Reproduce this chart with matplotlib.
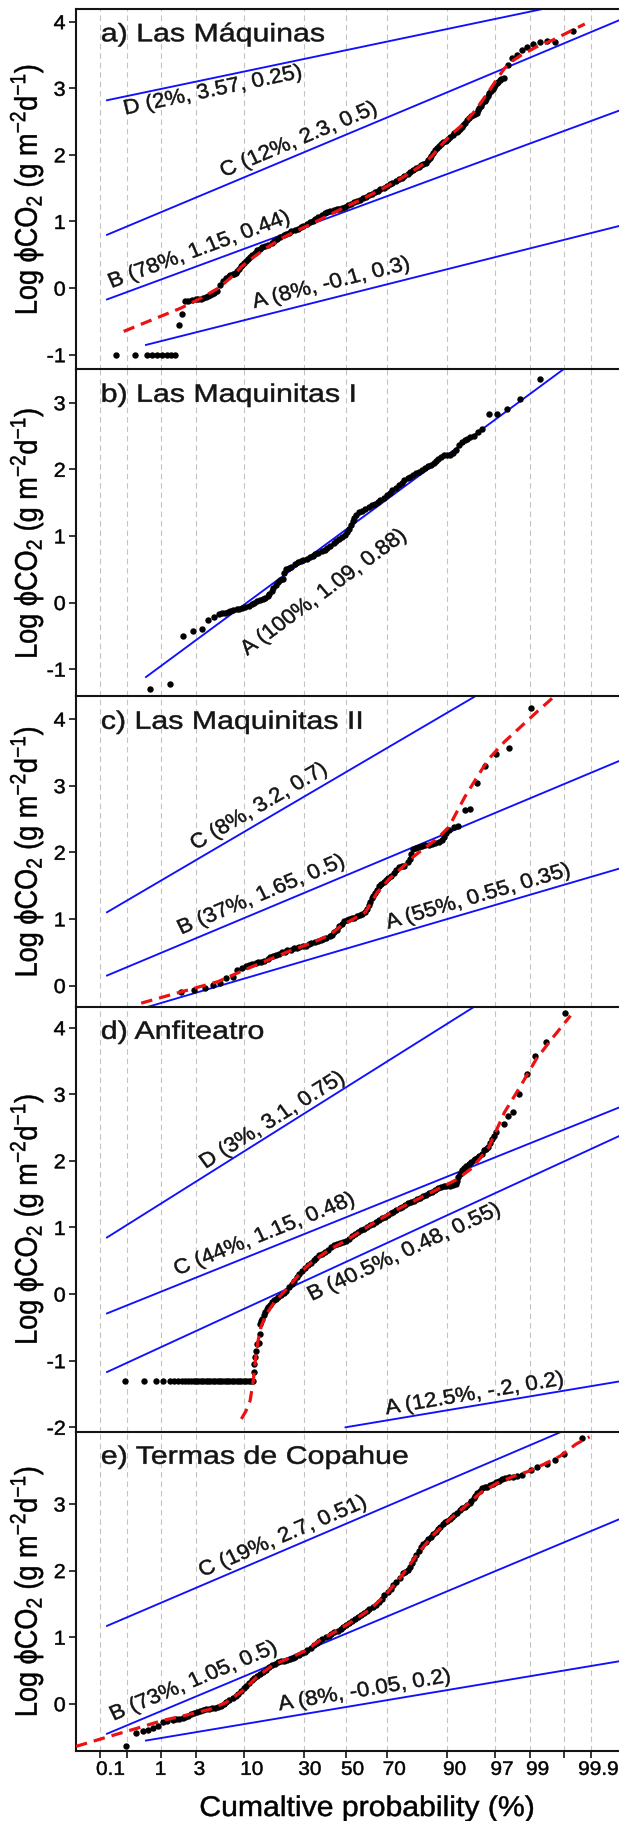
import matplotlib
matplotlib.use("Agg")
import matplotlib.pyplot as plt
from matplotlib.transforms import ScaledTranslation, Affine2D
from matplotlib.patheffects import AbstractPathEffect
from statistics import NormalDist
import numpy as np

plt.rcParams['font.family'] = ['Liberation Sans', 'DejaVu Sans']
plt.rcParams['mathtext.fontset'] = 'custom'
plt.rcParams['mathtext.rm'] = 'Liberation Sans'
plt.rcParams['mathtext.it'] = 'Liberation Sans'
plt.rcParams['axes.unicode_minus'] = False

# x axis = normal score of the cumulative probability
prob_ticks = [0.1, 0.3, 1, 3, 10, 30, 50, 70, 90, 97, 99, 99.7, 99.9]
prob_labels = ['0.1', '', '1', '3', '10', '30', '50', '70', '90', '97', '99', '', '99.9']

titles = ['a) Las Máquinas', 'b) Las Maquinitas I', 'c) Las Maquinitas II',
          'd) Anfiteatro', 'e) Termas de Copahue']

# ---- a) Las Maquinas: (normal score, log flux)
a_pts = [(-2.89, -1.0), (-2.65, -1.0), (-2.50, -1.0), (-2.43, -1.0), (-2.37, -1.0), (-2.31, -1.0),
         (-2.25, -1.0), (-2.19, -1.0), (-2.14, -1.0), (-2.10, -0.56), (-2.06, -0.39),
         (-2.02, -0.20), (-1.98, -0.19), (-1.93, -0.18), (-1.88, -0.17), (-1.85, -0.165),
         (-1.82, -0.16), (-1.79, -0.15), (-1.76, -0.14), (-1.73, -0.12), (-1.71, -0.10),
         (-1.68, -0.09), (-1.66, -0.08), (-1.62, -0.04), (-1.58, 0.04), (-1.54, 0.10),
         (-1.50, 0.15), (-1.47, 0.18), (-1.45, 0.20), (-1.42, 0.205), (-1.40, 0.21),
         (-1.38, 0.23), (-1.36, 0.25), (-1.34, 0.29), (-1.32, 0.33), (-1.30, 0.35),
         (-1.28, 0.38), (-1.25, 0.41), (-1.23, 0.44), (-1.20, 0.47), (-1.17, 0.50),
         (-1.14, 0.53), (-1.11, 0.57), (-1.08, 0.59), (-1.05, 0.62), (-1.01, 0.635),
         (-0.97, 0.65), (-0.93, 0.675), (-0.90, 0.70), (-0.86, 0.735), (-0.82, 0.765),
         (-0.78, 0.79), (-0.75, 0.81), (-0.71, 0.83), (-0.68, 0.85), (-0.64, 0.87),
         (-0.60, 0.885), (-0.56, 0.91), (-0.53, 0.935), (-0.49, 0.96), (-0.45, 0.985),
         (-0.41, 1.01), (-0.38, 1.04), (-0.34, 1.07), (-0.30, 1.10), (-0.26, 1.125),
         (-0.23, 1.145), (-0.19, 1.16), (-0.15, 1.175), (-0.11, 1.185), (-0.08, 1.195),
         (-0.04, 1.21), (-0.01, 1.225), (0.03, 1.245), (0.07, 1.265), (0.11, 1.29),
         (0.14, 1.31), (0.18, 1.33), (0.22, 1.35), (0.26, 1.375), (0.29, 1.395),
         (0.33, 1.42), (0.37, 1.44), (0.41, 1.465), (0.44, 1.485), (0.48, 1.51),
         (0.52, 1.535), (0.56, 1.56), (0.59, 1.585), (0.63, 1.61), (0.67, 1.635),
         (0.71, 1.66), (0.74, 1.69), (0.78, 1.715), (0.81, 1.74), (0.85, 1.77),
         (0.89, 1.80), (0.92, 1.825), (0.95, 1.85), (0.98, 1.87), (1.01, 1.885),
         (1.04, 1.92), (1.06, 1.95), (1.08, 1.99), (1.10, 2.035), (1.13, 2.08),
         (1.15, 2.11), (1.18, 2.14), (1.20, 2.165), (1.23, 2.19), (1.26, 2.215),
         (1.29, 2.245), (1.32, 2.275), (1.35, 2.30), (1.37, 2.325), (1.40, 2.345),
         (1.42, 2.36), (1.44, 2.39), (1.46, 2.415), (1.48, 2.45), (1.50, 2.485),
         (1.53, 2.52), (1.55, 2.55), (1.58, 2.58), (1.60, 2.60), (1.63, 2.62),
         (1.65, 2.635), (1.67, 2.67), (1.68, 2.70), (1.70, 2.74), (1.72, 2.775),
         (1.75, 2.805), (1.77, 2.835), (1.79, 2.88), (1.81, 2.925), (1.83, 2.955),
         (1.85, 2.985), (1.87, 3.02), (1.88, 3.05), (1.90, 3.075), (1.92, 3.10),
         (1.94, 3.12), (1.96, 3.135), (1.99, 3.16), (2.05, 3.35), (2.10, 3.46),
         (2.16, 3.50), (2.22, 3.57), (2.28, 3.62), (2.36, 3.66), (2.45, 3.70),
         (2.54, 3.71), (2.64, 3.69), (2.86, 3.86)]
a_fit_z = [-2.79, -2.4, -2.07, -1.8, -1.6, -1.45, -1.3, -1.15, -1.0, -0.8, -0.6, -0.4,
           -0.2, 0.0, 0.2, 0.4, 0.6, 0.8, 1.0, 1.1, 1.2, 1.3, 1.4, 1.5, 1.6, 1.7, 1.8,
           1.9, 2.0, 2.1, 2.2, 2.4, 2.6, 2.8, 3.01]
a_fit_y = [-0.65, -0.46, -0.30, -0.14, 0.0, 0.15, 0.33, 0.47, 0.6, 0.75, 0.87, 0.98,
           1.1, 1.22, 1.33, 1.45, 1.58, 1.72, 1.88, 2.0, 2.14, 2.27, 2.38, 2.48, 2.62,
           2.78, 2.95, 3.13, 3.3, 3.41, 3.49, 3.62, 3.72, 3.84, 3.965]
a_pop_labels = ['D (2%, 3.57, 0.25)', 'C (12%, 2.3, 0.5)', 'B (78%, 1.15, 0.44)', 'A (8%, -0.1, 0.3)']
a_pop_mean = [3.57, 2.3, 1.15, -0.1]
a_pop_sd = [0.25, 0.5, 0.44, 0.3]
a_pop_start = [-3.0, -3.0, -3.0, -2.51]

# ---- b) Las Maquinitas I
b_pts = [(-2.46, -1.30), (-2.21, -1.23), (-2.04, -0.51), (-1.92, -0.42), (-1.81, -0.39),
         (-1.73, -0.26), (-1.66, -0.21), (-1.59, -0.17), (-1.55, -0.16), (-1.52, -0.15),
         (-1.48, -0.135), (-1.45, -0.12), (-1.41, -0.11), (-1.37, -0.10), (-1.34, -0.09),
         (-1.30, -0.08), (-1.26, -0.065), (-1.22, -0.05), (-1.18, -0.02), (-1.15, 0.00),
         (-1.11, 0.02), (-1.07, 0.04), (-1.04, 0.055), (-1.01, 0.07), (-0.98, 0.10),
         (-0.96, 0.13), (-0.93, 0.18), (-0.91, 0.22), (-0.88, 0.27), (-0.85, 0.31),
         (-0.82, 0.335), (-0.79, 0.36), (-0.77, 0.45), (-0.75, 0.51), (-0.71, 0.525),
         (-0.68, 0.54), (-0.64, 0.575), (-0.60, 0.61), (-0.56, 0.625), (-0.53, 0.64),
         (-0.49, 0.66), (-0.45, 0.68), (-0.41, 0.705), (-0.38, 0.73), (-0.34, 0.75),
         (-0.30, 0.77), (-0.26, 0.795), (-0.23, 0.82), (-0.19, 0.855), (-0.15, 0.89),
         (-0.12, 0.925), (-0.08, 0.96), (-0.04, 0.99), (-0.01, 1.02), (0.02, 1.06),
         (0.05, 1.11), (0.07, 1.17), (0.09, 1.22), (0.11, 1.27), (0.13, 1.32),
         (0.17, 1.355), (0.21, 1.38), (0.25, 1.41), (0.29, 1.43), (0.33, 1.46),
         (0.37, 1.48), (0.41, 1.51), (0.44, 1.54), (0.48, 1.575), (0.52, 1.61),
         (0.56, 1.65), (0.59, 1.69), (0.63, 1.725), (0.67, 1.76), (0.71, 1.80),
         (0.74, 1.84), (0.78, 1.865), (0.81, 1.89), (0.85, 1.91), (0.89, 1.94),
         (0.93, 1.96), (0.96, 1.99), (1.00, 2.02), (1.04, 2.05), (1.08, 2.07),
         (1.11, 2.09), (1.14, 2.13), (1.16, 2.16), (1.20, 2.19), (1.24, 2.21),
         (1.28, 2.215), (1.31, 2.22), (1.35, 2.25), (1.39, 2.29), (1.43, 2.36),
         (1.46, 2.41), (1.50, 2.44), (1.53, 2.46), (1.57, 2.48), (1.61, 2.50),
         (1.67, 2.56), (1.72, 2.61), (1.80, 2.83), (1.91, 2.83), (2.03, 2.90),
         (2.20, 3.05), (2.45, 3.36)]
b_fit_z = []
b_fit_y = []
b_pop_labels = ['A (100%, 1.09, 0.88)']
b_pop_mean = [1.09]
b_pop_sd = [0.88]
b_pop_start = [-2.51]

# ---- c) Las Maquinitas II
c_pts = [(-2.07, -0.09), (-1.91, -0.06), (-1.77, -0.03), (-1.67, 0.01), (-1.58, 0.04),
         (-1.50, 0.11), (-1.42, 0.13), (-1.36, 0.24), (-1.30, 0.27), (-1.25, 0.30),
         (-1.21, 0.31), (-1.17, 0.32), (-1.13, 0.335), (-1.10, 0.35), (-1.06, 0.36),
         (-1.02, 0.37), (-0.98, 0.40), (-0.95, 0.43), (-0.91, 0.445), (-0.87, 0.46),
         (-0.84, 0.48), (-0.80, 0.50), (-0.76, 0.51), (-0.73, 0.53), (-0.69, 0.54),
         (-0.65, 0.56), (-0.61, 0.57), (-0.58, 0.58), (-0.54, 0.59), (-0.50, 0.60),
         (-0.46, 0.62), (-0.43, 0.64), (-0.39, 0.655), (-0.35, 0.67), (-0.31, 0.685),
         (-0.28, 0.70), (-0.24, 0.72), (-0.20, 0.74), (-0.17, 0.765), (-0.14, 0.80),
         (-0.11, 0.84), (-0.08, 0.89), (-0.05, 0.93), (-0.02, 0.97), (0.02, 0.985),
         (0.05, 1.00), (0.08, 1.01), (0.11, 1.02), (0.14, 1.04), (0.18, 1.06),
         (0.21, 1.08), (0.24, 1.10), (0.27, 1.15), (0.29, 1.21), (0.31, 1.26),
         (0.33, 1.31), (0.35, 1.35), (0.37, 1.39), (0.40, 1.44), (0.42, 1.49),
         (0.45, 1.52), (0.48, 1.55), (0.51, 1.58), (0.54, 1.61), (0.57, 1.65),
         (0.61, 1.69), (0.64, 1.73), (0.67, 1.78), (0.71, 1.79), (0.74, 1.80),
         (0.78, 1.85), (0.81, 1.90), (0.83, 1.97), (0.85, 2.05), (0.89, 2.06),
         (0.92, 2.08), (0.96, 2.095), (1.00, 2.11), (1.05, 2.115), (1.09, 2.12),
         (1.13, 2.135), (1.17, 2.15), (1.21, 2.19), (1.24, 2.23), (1.27, 2.29),
         (1.30, 2.34), (1.36, 2.38), (1.42, 2.39), (1.50, 2.64), (1.56, 2.65),
         (1.66, 3.04), (1.76, 3.29), (1.89, 3.48), (2.06, 3.56), (2.33, 4.16)]
c_fit_z = [-2.57, -2.2, -1.9, -1.6, -1.3, -1.0, -0.7, -0.4, -0.2, -0.05, 0.1, 0.25, 0.4,
           0.55, 0.7, 0.85, 1.0, 1.15, 1.3, 1.5, 1.65, 1.8, 2.0, 2.2, 2.4, 2.63]
c_fit_y = [-0.265, -0.14, -0.04, 0.06, 0.22, 0.37, 0.52, 0.65, 0.76, 0.9, 1.0, 1.1, 1.4,
           1.6, 1.76, 1.93, 2.07, 2.2, 2.38, 2.83, 3.12, 3.40, 3.66, 3.88, 4.10, 4.345]
c_pop_labels = ['C (8%, 3.2, 0.7)', 'B (37%, 1.65, 0.5)', 'A (55%, 0.55, 0.35)']
c_pop_mean = [3.2, 1.65, 0.55]
c_pop_sd = [0.7, 0.5, 0.35]
c_pop_start = [-3.0, -3.0, -2.54]

# ---- d) Anfiteatro (values at the detection floor, then the rest)
d_floor = -1.31
d_floor_z = [-2.77, -2.54, -2.39, -2.29, -2.21, -2.16, -2.11, -2.06, -2.02, -1.98, -1.94,
             -1.91, -1.88, -1.85, -1.82, -1.79, -1.76, -1.73, -1.70, -1.67, -1.64, -1.61,
             -1.58, -1.55, -1.52, -1.49, -1.46, -1.43, -1.40, -1.37, -1.34, -1.31, -1.28,
             -1.25, -1.22, -1.19, -1.16]
d_pts = [(-1.157, -1.17), (-1.15, -1.05), (-1.137, -0.94), (-1.125, -0.85), (-1.112, -0.75),
         (-1.092, -0.73), (-1.08, -0.60), (-1.072, -0.45), (-1.06, -0.40), (-1.048, -0.37),
         (-1.03, -0.32), (-1.013, -0.27), (-0.99, -0.23), (-0.973, -0.20), (-0.95, -0.16),
         (-0.924, -0.12), (-0.90, -0.095), (-0.874, -0.07), (-0.845, -0.045), (-0.814, -0.02),
         (-0.78, 0.015), (-0.75, 0.05), (-0.71, 0.10), (-0.675, 0.15), (-0.645, 0.20),
         (-0.616, 0.255), (-0.585, 0.30), (-0.551, 0.345), (-0.515, 0.39), (-0.477, 0.43),
         (-0.44, 0.47), (-0.402, 0.505), (-0.365, 0.545), (-0.328, 0.58), (-0.29, 0.605),
         (-0.253, 0.63), (-0.215, 0.665), (-0.179, 0.705), (-0.14, 0.73), (-0.104, 0.755),
         (-0.067, 0.77), (-0.03, 0.78), (0.01, 0.80), (0.045, 0.83), (0.08, 0.865),
         (0.119, 0.895), (0.155, 0.925), (0.194, 0.955), (0.23, 0.98), (0.268, 1.005),
         (0.305, 1.03), (0.343, 1.055), (0.38, 1.085), (0.417, 1.115), (0.455, 1.14),
         (0.492, 1.165), (0.53, 1.19), (0.566, 1.215), (0.60, 1.24), (0.641, 1.265),
         (0.68, 1.29), (0.715, 1.315), (0.75, 1.34), (0.789, 1.365), (0.825, 1.385),
         (0.864, 1.405), (0.90, 1.425), (0.938, 1.445), (0.975, 1.47), (1.013, 1.495),
         (1.05, 1.52), (1.087, 1.54), (1.125, 1.565), (1.162, 1.59), (1.20, 1.61),
         (1.236, 1.62), (1.27, 1.625), (1.311, 1.63), (1.35, 1.645), (1.385, 1.655),
         (1.40, 1.70), (1.42, 1.76), (1.44, 1.81), (1.46, 1.86), (1.49, 1.90),
         (1.519, 1.93), (1.55, 1.955), (1.584, 1.98), (1.61, 2.01), (1.634, 2.03),
         (1.66, 2.05), (1.683, 2.07), (1.715, 2.11), (1.748, 2.16), (1.77, 2.18),
         (1.797, 2.21), (1.82, 2.27), (1.847, 2.33), (1.87, 2.38), (1.897, 2.43),
         (1.996, 2.56), (2.046, 2.67), (2.105, 2.73), (2.18, 3.01), (2.279, 3.30),
         (2.388, 3.57), (2.527, 3.79), (2.761, 4.22)]
d_fit_z = [-1.31, -1.25, -1.2, -1.16, -1.13, -1.1, -1.06, -1.0, -0.9, -0.8, -0.7, -0.6,
           -0.5, -0.4, -0.2, 0.0, 0.2, 0.4, 0.6, 0.8, 1.0, 1.2, 1.4, 1.6, 1.8, 2.0, 2.2,
           2.4, 2.6, 2.83]
d_fit_y = [-1.875, -1.75, -1.6, -1.3, -0.95, -0.7, -0.48, -0.31, -0.13, 0.0, 0.13, 0.27,
           0.40, 0.50, 0.67, 0.80, 0.95, 1.1, 1.24, 1.36, 1.48, 1.6, 1.72, 1.9, 2.2, 2.73,
           3.12, 3.53, 3.84, 4.18]
d_pop_labels = ['D (3%, 3.1, 0.75)', 'C (44%, 1.15, 0.48)', 'B (40.5%, 0.48, 0.55)', 'A (12.5%, -.2, 0.2)']
d_pop_mean = [3.1, 1.15, 0.48, -2.0]
d_pop_sd = [0.75, 0.48, 0.55, 0.2]
d_pop_start = [-3.0, -3.0, -3.0, 0.0]

# ---- e) Termas de Copahue
e_pts = [(-2.76, -0.64), (-2.63, -0.44), (-2.55, -0.41), (-2.49, -0.39), (-2.42, -0.36),
         (-2.36, -0.33), (-2.30, -0.28), (-2.24, -0.26), (-2.17, -0.24), (-2.13, -0.235),
         (-2.09, -0.23), (-2.05, -0.215), (-2.02, -0.20), (-1.98, -0.18), (-1.94, -0.16),
         (-1.90, -0.145), (-1.87, -0.13), (-1.83, -0.11), (-1.79, -0.09), (-1.75, -0.085),
         (-1.72, -0.08), (-1.68, -0.07), (-1.64, -0.06), (-1.60, -0.045), (-1.57, -0.03),
         (-1.53, 0.00), (-1.50, 0.03), (-1.46, 0.05), (-1.42, 0.08), (-1.38, 0.11),
         (-1.35, 0.15), (-1.31, 0.19), (-1.28, 0.23), (-1.25, 0.27), (-1.22, 0.31),
         (-1.18, 0.35), (-1.15, 0.39), (-1.11, 0.42), (-1.07, 0.45), (-1.04, 0.48),
         (-1.00, 0.51), (-0.96, 0.545), (-0.92, 0.58), (-0.89, 0.605), (-0.85, 0.63),
         (-0.81, 0.64), (-0.78, 0.65), (-0.74, 0.665), (-0.70, 0.68), (-0.66, 0.695),
         (-0.63, 0.71), (-0.59, 0.735), (-0.55, 0.76), (-0.51, 0.785), (-0.48, 0.81),
         (-0.44, 0.845), (-0.40, 0.88), (-0.36, 0.915), (-0.33, 0.95), (-0.29, 0.975),
         (-0.25, 1.00), (-0.21, 1.025), (-0.18, 1.05), (-0.14, 1.075), (-0.10, 1.10),
         (-0.06, 1.125), (-0.03, 1.15), (0.01, 1.18), (0.05, 1.21), (0.08, 1.24),
         (0.12, 1.27), (0.16, 1.30), (0.19, 1.33), (0.23, 1.36), (0.27, 1.39),
         (0.30, 1.42), (0.34, 1.46), (0.38, 1.49), (0.42, 1.53), (0.46, 1.58),
         (0.49, 1.63), (0.53, 1.68), (0.57, 1.73), (0.60, 1.78), (0.64, 1.83),
         (0.68, 1.89), (0.72, 1.96), (0.75, 1.985), (0.79, 2.01), (0.81, 2.06),
         (0.84, 2.12), (0.86, 2.17), (0.89, 2.23), (0.92, 2.29), (0.95, 2.36),
         (0.98, 2.40), (1.01, 2.43), (1.04, 2.47), (1.07, 2.51), (1.10, 2.545),
         (1.14, 2.58), (1.16, 2.62), (1.19, 2.66), (1.22, 2.70), (1.25, 2.73),
         (1.28, 2.75), (1.31, 2.77), (1.34, 2.80), (1.37, 2.83), (1.40, 2.87),
         (1.44, 2.91), (1.47, 2.935), (1.50, 2.96), (1.53, 2.99), (1.56, 3.02),
         (1.58, 3.05), (1.61, 3.09), (1.63, 3.12), (1.66, 3.16), (1.69, 3.20),
         (1.72, 3.24), (1.75, 3.25), (1.78, 3.26), (1.82, 3.28), (1.86, 3.30),
         (1.89, 3.325), (1.93, 3.35), (1.97, 3.37), (2.01, 3.39), (2.06, 3.40),
         (2.11, 3.41), (2.16, 3.425), (2.22, 3.44), (2.33, 3.51), (2.41, 3.55),
         (2.53, 3.60), (2.63, 3.66), (2.75, 3.75), (2.97, 3.99)]
e_fit_z = [-3.39, -3.0, -2.6, -2.3, -2.0, -1.7, -1.5, -1.3, -1.1, -0.9, -0.7, -0.5, -0.3,
           -0.1, 0.1, 0.3, 0.5, 0.7, 0.9, 1.1, 1.3, 1.5, 1.7, 1.9, 2.1, 2.3, 2.5, 2.7, 2.9, 3.07]
e_fit_y = [-0.64, -0.50, -0.36, -0.25, -0.17, -0.08, 0.02, 0.19, 0.42, 0.59, 0.69, 0.80, 0.97,
           1.10, 1.25, 1.41, 1.63, 1.91, 2.24, 2.53, 2.76, 2.96, 3.17, 3.31, 3.41, 3.49, 3.60,
           3.72, 3.90, 4.01]
e_pop_labels = ['C (19%, 2.7, 0.51)', 'B (73%, 1.05, 0.5)', 'A (8%, -0.05, 0.2)']
e_pop_mean = [2.7, 1.05, -0.05]
e_pop_sd = [0.51, 0.5, 0.2]
e_pop_start = [-3.0, -3.0, -2.51]

# where the population labels sit (normal score, log flux)
a_lab_pos = [(-1.67, 2.965), (-0.59, 2.225), (-1.84, 0.575), (-0.18, 0.075)]
b_lab_pos = [(-0.27, 0.154)]
c_lab_pos = [(-1.09, 2.685), (-1.06, 1.36), (1.67, 1.335)]
d_lab_pos = [(-0.92, 2.61), (-1.02, 0.896), (0.74, 0.63), (1.62, -1.5)]
e_lab_pos = [(-0.79, 2.51), (-1.91, 0.34), (0.24, 0.20)]

d_all = [(z, d_floor) for z in d_floor_z] + d_pts
panels = [
    (a_pts, a_fit_z, a_fit_y, a_pop_labels, a_pop_mean, a_pop_sd, a_pop_start, a_lab_pos),
    (b_pts, b_fit_z, b_fit_y, b_pop_labels, b_pop_mean, b_pop_sd, b_pop_start, b_lab_pos),
    (c_pts, c_fit_z, c_fit_y, c_pop_labels, c_pop_mean, c_pop_sd, c_pop_start, c_lab_pos),
    (d_all, d_fit_z, d_fit_y, d_pop_labels, d_pop_mean, d_pop_sd, d_pop_start, d_lab_pos),
    (e_pts, e_fit_z, e_fit_y, e_pop_labels, e_pop_mean, e_pop_sd, e_pop_start, e_lab_pos),
]
ylims = [(-1.222, 4.19), (-1.411, 3.499), (-0.315, 4.339), (-2.063, 4.318), (-0.709, 4.089)]
yticks = [range(-1, 5), range(-1, 4), range(0, 5), range(-2, 5), range(0, 4)]
# tick label nudges (px) seen in the original
xlab_shift = [10.7, 0, 0, 3.5, 8.2, 6.1, 7.1, 7.1, 7.2, 7.0, 7.1, 0, 7.1]


class Stretch(AbstractPathEffect):
    """widen glyphs horizontally (the original type is wider than tall), with a thin outline"""
    def __init__(self, sx, anchor='center', lw=0.35):
        super().__init__()
        self.sx = sx
        self.anchor = anchor
        self.lw = lw

    def draw_path(self, renderer, gc, tpath, affine, rgbFace=None):
        if len(tpath.vertices) == 0:
            return
        ext = tpath.transformed(affine).get_extents()
        if self.anchor == 'left':
            x0 = ext.x0
        elif self.anchor == 'right':
            x0 = ext.x1
        else:
            x0 = 0.5 * (ext.x0 + ext.x1)
        st = Affine2D().translate(-x0, 0).scale(self.sx, 1).translate(x0, 0)
        gc0 = renderer.new_gc()
        gc0.copy_properties(gc)
        if self.lw and rgbFace is not None:
            gc0.set_linewidth(self.lw)
            gc0.set_foreground(rgbFace)
        renderer.draw_path(gc0, tpath, affine + st, rgbFace)
        gc0.restore()


nd = NormalDist()
tick_z = [nd.inv_cdf(p / 100) for p in prob_ticks]

W, H = 619, 1821
fig = plt.figure(figsize=(W / 100, H / 100), dpi=100)
left_px = 76
edges = [9, 369.5, 696.5, 1006.5, 1431.5, 1751]
ink = '#141414'
ylab = 'Log ϕCO$_2$ (g m$^{-2}$d$^{-1}$)'
sx_lab = 1.08

for i, (pts, fz, fy, labs, means, sds, starts, lpos) in enumerate(panels):
    top, bot = edges[i], edges[i + 1]
    ax = fig.add_axes([left_px / W, 1 - bot / H, 1 - left_px / W, (bot - top) / H])
    ax.set_xlim(-3.39, 3.44)
    ax.set_ylim(*ylims[i])
    ax.set_xticks(tick_z, prob_labels)
    ax.set_yticks(list(yticks[i]))
    ax.grid(axis='x', color='#c4c4c4', lw=0.8, ls=(0, (5, 3.5)), zorder=0)
    ax.spines['right'].set_visible(False)
    for s in ['left', 'top', 'bottom']:
        ax.spines[s].set_linewidth(1.5)
        ax.spines[s].set_color(ink)
    if i < 4:
        ax.spines['bottom'].set_visible(False)
        ax.tick_params(axis='x', length=0, labelbottom=False)
    else:
        ax.tick_params(axis='x', length=5.3, width=1.2, color=ink, labelsize=14, pad=2.5)
        for lab, dx in zip(ax.get_xticklabels(), xlab_shift):
            lab.set_transform(lab.get_transform() + ScaledTranslation(dx / 100, 0, fig.dpi_scale_trans))
            lab.set_path_effects([Stretch(1.07)])
        xl = ax.set_xlabel('Cumaltive probability (%)', fontsize=20.5, va='baseline')
        xl.set_path_effects([Stretch(1.06)])
        ax.xaxis.set_label_coords((367 - left_px) / (W - left_px), (1751 - 1816) / (bot - top))
    ax.tick_params(axis='y', length=5, width=1.2, color=ink, labelsize=14.5, pad=2.5)
    for lab in ax.get_yticklabels():
        lab.set_path_effects([Stretch(1.07, 'right')])
    yl = ax.set_ylabel(ylab, fontsize=19.5, va='center')
    yl.set_path_effects([Stretch(1.15)])
    ax.yaxis.set_label_coords((26.5 - left_px) / (W - left_px), 0.5)

    # population lines and their labels
    for lab, m, sd, z0, (tx, ty) in zip(labs, means, sds, starts, lpos):
        zz = np.array([z0, 3.6])
        ax.plot(zz, m + sd * zz, color='#1010ff', lw=1.35, zorder=2)
        p1 = ax.transData.transform((0, m))
        p2 = ax.transData.transform((1, m + sd))
        ang = np.arctan2(p2[1] - p1[1], p2[0] - p1[0])
        ang = np.degrees(np.arctan(sx_lab * np.tan(ang)))
        t = ax.text(tx, ty, lab, rotation=ang, rotation_mode='anchor', ha='center',
                    va='center', fontsize=15, color=ink, zorder=5)
        t.set_path_effects([Stretch(sx_lab)])

    pz = [p[0] for p in pts]
    py = [p[1] for p in pts]
    ax.plot(pz, py, 'o', color='black', ms=4.6, mec='none', zorder=3)
    if len(fz):
        ax.plot(fz, fy, color='#ee1111', lw=2.3, dashes=(3.6, 2.2), zorder=4)

    tt = ax.annotate(titles[i], xy=(0, 1), xycoords='axes fraction', xytext=(25, -32.3),
                     textcoords='offset pixels', fontsize=18.2, ha='left', va='baseline', color=ink)
    tt.set_path_effects([Stretch(1.2, 'left')])

fig.savefig('out.png', dpi=100)
